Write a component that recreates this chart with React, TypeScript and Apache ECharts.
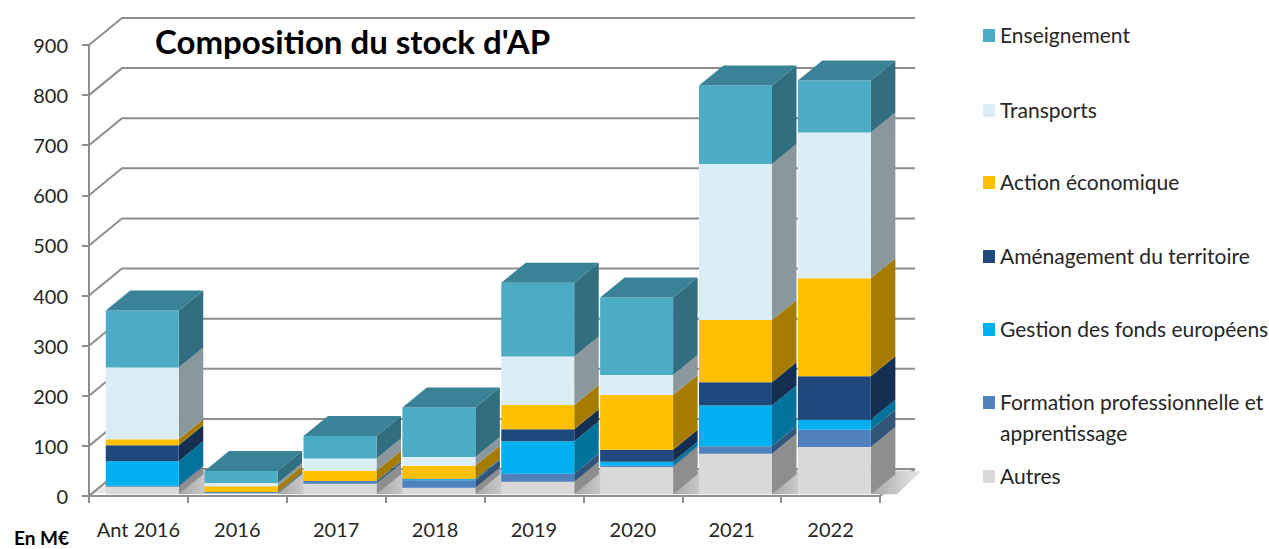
import React, { useEffect, useRef } from "react";
import * as echarts from "echarts";

const categories = ["Ant 2016", "2016", "2017", "2018", "2019", "2020", "2021", "2022"];
const autres = [15, 2, 21, 13, 25, 54.5, 81, 94.5];
const formation = [2, 1, 3.5, 15, 16, 2.5, 15, 34.5];
const gestion = [49, 0.5, 1, 2, 65, 8, 81, 20];
const amenagement = [32, 1, 1, 1, 24, 24, 46.5, 86.5];
const action = [12, 11.5, 20.5, 26, 48, 109, 124.5, 195.5];
const transports = [143, 6.5, 24.5, 17.5, 97, 40, 311, 291];
const enseignement = [114, 24, 45, 98.5, 147, 154.5, 157, 104];
const yTicks = [0, 100, 200, 300, 400, 500, 600, 700, 800, 900];

const FONT = "Lato";
const AXIS_GREY = "#8e8e8e";

// Stack order, bottom to top, with the three shades of each extruded bar face.
const stacks = [
  { name: "Autres", values: autres, front: "#D9D9D9", side: "#8E8E8E", top: "#A8A8A8" },
  { name: "Formation professionnelle et\napprentissage", values: formation, front: "#4F81BD", side: "#335479", top: "#3D658F" },
  { name: "Gestion des fonds européens", values: gestion, front: "#00B0F0", side: "#00729C", top: "#0088B8" },
  { name: "Aménagement du territoire", values: amenagement, front: "#1F497D", side: "#142F51", top: "#183860" },
  { name: "Action économique", values: action, front: "#FFC000", side: "#A67C00", top: "#C49300" },
  { name: "Transports", values: transports, front: "#DCEEF5", side: "#8A979D", top: "#A8B8BE" },
  { name: "Enseignement", values: enseignement, front: "#4BACC6", side: "#316F80", top: "#3A8298" },
];

// Legend rows, top to bottom: label centre heights in the chart's pixel frame.
const legendRows = [
  { stack: 6, y: 35 },
  { stack: 5, y: 110 },
  { stack: 4, y: 182 },
  { stack: 3, y: 256 },
  { stack: 2, y: 329 },
  { stack: 1, y: 402 },
  { stack: 0, y: 476 },
];

const WALL_DX = 33;
const WALL_DY = -27;
const BAR_DX = 24.5;
const BAR_DY = -20;
const BAR_SHIFT_X = 3.8;
const BAR_SHIFT_Y = -1.7;
const BAR_RATIO = 0.738;

function App() {
  const ref = useRef<HTMLDivElement>(null);

  useEffect(() => {
    const chart = echarts.init(ref.current!, undefined, { renderer: "svg" });

    // Back wall lines and the slanted returns joining them to the value axis.
    const wallSeries = {
      type: "custom",
      silent: true,
      z: 1,
      coordinateSystem: "cartesian2d",
      data: yTicks.map((v) => [0, v]),
      renderItem: (params: any, api: any) => {
        const cs = params.coordSys;
        const y = api.coord([0, api.value(1)])[1];
        return {
          type: "polyline",
          shape: {
            points: [
              [cs.x, y],
              [cs.x + WALL_DX, y + WALL_DY],
              [cs.x + cs.width + WALL_DX + 2, y + WALL_DY],
            ],
          },
          style: { fill: "none", stroke: AXIS_GREY, lineWidth: 2 },
        };
      },
    };

    // Floor slab and the soft shading that falls to the right of each bar.
    const floorSeries = {
      type: "custom",
      silent: true,
      z: 2,
      coordinateSystem: "cartesian2d",
      data: categories.map((_, i) => [i, 0]),
      renderItem: (params: any, api: any) => {
        const cs = params.coordSys;
        const i = api.value(0);
        const p = api.coord([i, 0]);
        const w = api.size([1, 0])[0] * BAR_RATIO;
        const right = p[0] + BAR_SHIFT_X + w / 2;
        const yFront = p[1] + BAR_SHIFT_Y;
        const children: any[] = [];
        if (i === 0) {
          children.push({
            type: "polygon",
            shape: {
              points: [
                [cs.x + 4, yFront - 1],
                [cs.x + WALL_DX, p[1] + WALL_DY],
                [cs.x + cs.width + WALL_DX, p[1] + WALL_DY],
                [cs.x + cs.width + 4, yFront - 1],
              ],
            },
            style: { fill: "#E9E9E9" },
          });
          children.push({
            type: "polyline",
            shape: {
              points: [
                [cs.x + cs.width, p[1]],
                [cs.x + cs.width + WALL_DX + 2, p[1] + WALL_DY],
              ],
            },
            style: { fill: "none", stroke: AXIS_GREY, lineWidth: 2 },
          });
          children.push({
            type: "polyline",
            shape: {
              points: [
                [cs.x, p[1]],
                [cs.x + WALL_DX, p[1] + WALL_DY],
                [cs.x + cs.width + WALL_DX + 2, p[1] + WALL_DY],
              ],
            },
            style: { fill: "none", stroke: AXIS_GREY, lineWidth: 2 },
          });
        }
        children.push({
          type: "polygon",
          shape: {
            points: [
              [right, yFront],
              [right + BAR_DX, yFront + BAR_DY - 3],
              [right + BAR_DX + 26, yFront + BAR_DY - 3],
              [right + 26, yFront],
            ],
          },
          style: {
            fill: new echarts.graphic.LinearGradient(0, 0, 1, 0, [
              { offset: 0, color: "#A6A6A6" },
              { offset: 1, color: "#E9E9E9" },
            ]),
          },
        });
        return { type: "group", children };
      },
    };

    const bases = categories.map(() => 0);
    const barSeries = stacks.map((s, stackIndex) => {
      const isTop = stackIndex === stacks.length - 1;
      const data = s.values.map((v, i) => {
        const start = bases[i];
        bases[i] += v;
        return [i, start, bases[i]];
      });
      return {
        type: "custom",
        name: s.name,
        z: 3 + stackIndex,
        coordinateSystem: "cartesian2d",
        itemStyle: { color: s.front },
        encode: { x: 0, y: [1, 2] },
        data,
        renderItem: (_: any, api: any) => {
          const i = api.value(0);
          const lo = api.coord([i, api.value(1)]);
          const hi = api.coord([i, api.value(2)]);
          const w = api.size([1, 0])[0] * BAR_RATIO;
          const x0 = lo[0] + BAR_SHIFT_X - w / 2;
          const x1 = x0 + w;
          const y0 = lo[1] + BAR_SHIFT_Y;
          const y1 = hi[1] + BAR_SHIFT_Y;
          const children: any[] = [
            {
              type: "polygon",
              shape: {
                points: [
                  [x1, y0],
                  [x1 + BAR_DX, y0 + BAR_DY],
                  [x1 + BAR_DX, y1 + BAR_DY],
                  [x1, y1],
                ],
              },
              style: { fill: s.side },
            },
            {
              type: "rect",
              shape: { x: x0, y: y1, width: w, height: y0 - y1 },
              style: { fill: s.front },
            },
          ];
          if (isTop) {
            children.push({
              type: "polygon",
              shape: {
                points: [
                  [x0, y1],
                  [x0 + BAR_DX, y1 + BAR_DY],
                  [x1 + BAR_DX, y1 + BAR_DY],
                  [x1, y1],
                ],
              },
              style: { fill: s.top },
            });
          }
          return { type: "group", children };
        },
      };
    });

    const legendGraphics = legendRows.flatMap((row) => {
      const s = stacks[row.stack];
      return [
        {
          type: "rect",
          left: 983,
          top: row.y - 6,
          shape: { width: 12, height: 13 },
          style: { fill: s.front },
        },
        {
          type: "text",
          x: 1000,
          y: row.y - 16,
          style: {
            text: s.name,
            font: `21px ${FONT}`,
            fill: "#262626",
            lineHeight: 31,
          },
        },
      ];
    });

    chart.setOption({
      animation: false,
      backgroundColor: "#ffffff",
      title: {
        text: "Composition du stock d'AP",
        left: 155,
        top: 24,
        padding: 0,
        textStyle: { fontFamily: FONT, fontSize: 33, fontWeight: "bold", color: "#000000" },
      },
      grid: { left: 89, top: 45, width: 791, height: 451 },
      xAxis: {
        type: "category",
        data: categories,
        axisLine: { lineStyle: { color: AXIS_GREY, width: 2 } },
        axisTick: { show: true, interval: 0, alignWithLabel: false, length: 7, lineStyle: { color: AXIS_GREY, width: 2 } },
        axisLabel: { color: "#262626", fontFamily: FONT, fontSize: 20, margin: 23, interval: 0 },
        splitLine: { show: false },
      },
      yAxis: {
        type: "value",
        min: 0,
        max: 900,
        interval: 100,
        axisLine: { show: true, lineStyle: { color: AXIS_GREY, width: 2 } },
        axisTick: { show: true, length: 7, lineStyle: { color: AXIS_GREY, width: 2 } },
        axisLabel: { color: "#262626", fontFamily: FONT, fontSize: 20, margin: 21 },
        splitLine: { show: false },
      },
      graphic: [
        ...legendGraphics,
        {
          type: "text",
          x: 14,
          y: 528,
          style: { text: "En M€", font: `bold 19px ${FONT}`, fill: "#000000" },
        },
      ],
      series: [wallSeries, floorSeries, ...barSeries],
    });

    return () => chart.dispose();
  }, []);

  return (
    <div
      ref={ref}
      style={{ position: "absolute", left: 0, top: 0, width: 1269, height: 549 }}
    />
  );
}

export default App;
